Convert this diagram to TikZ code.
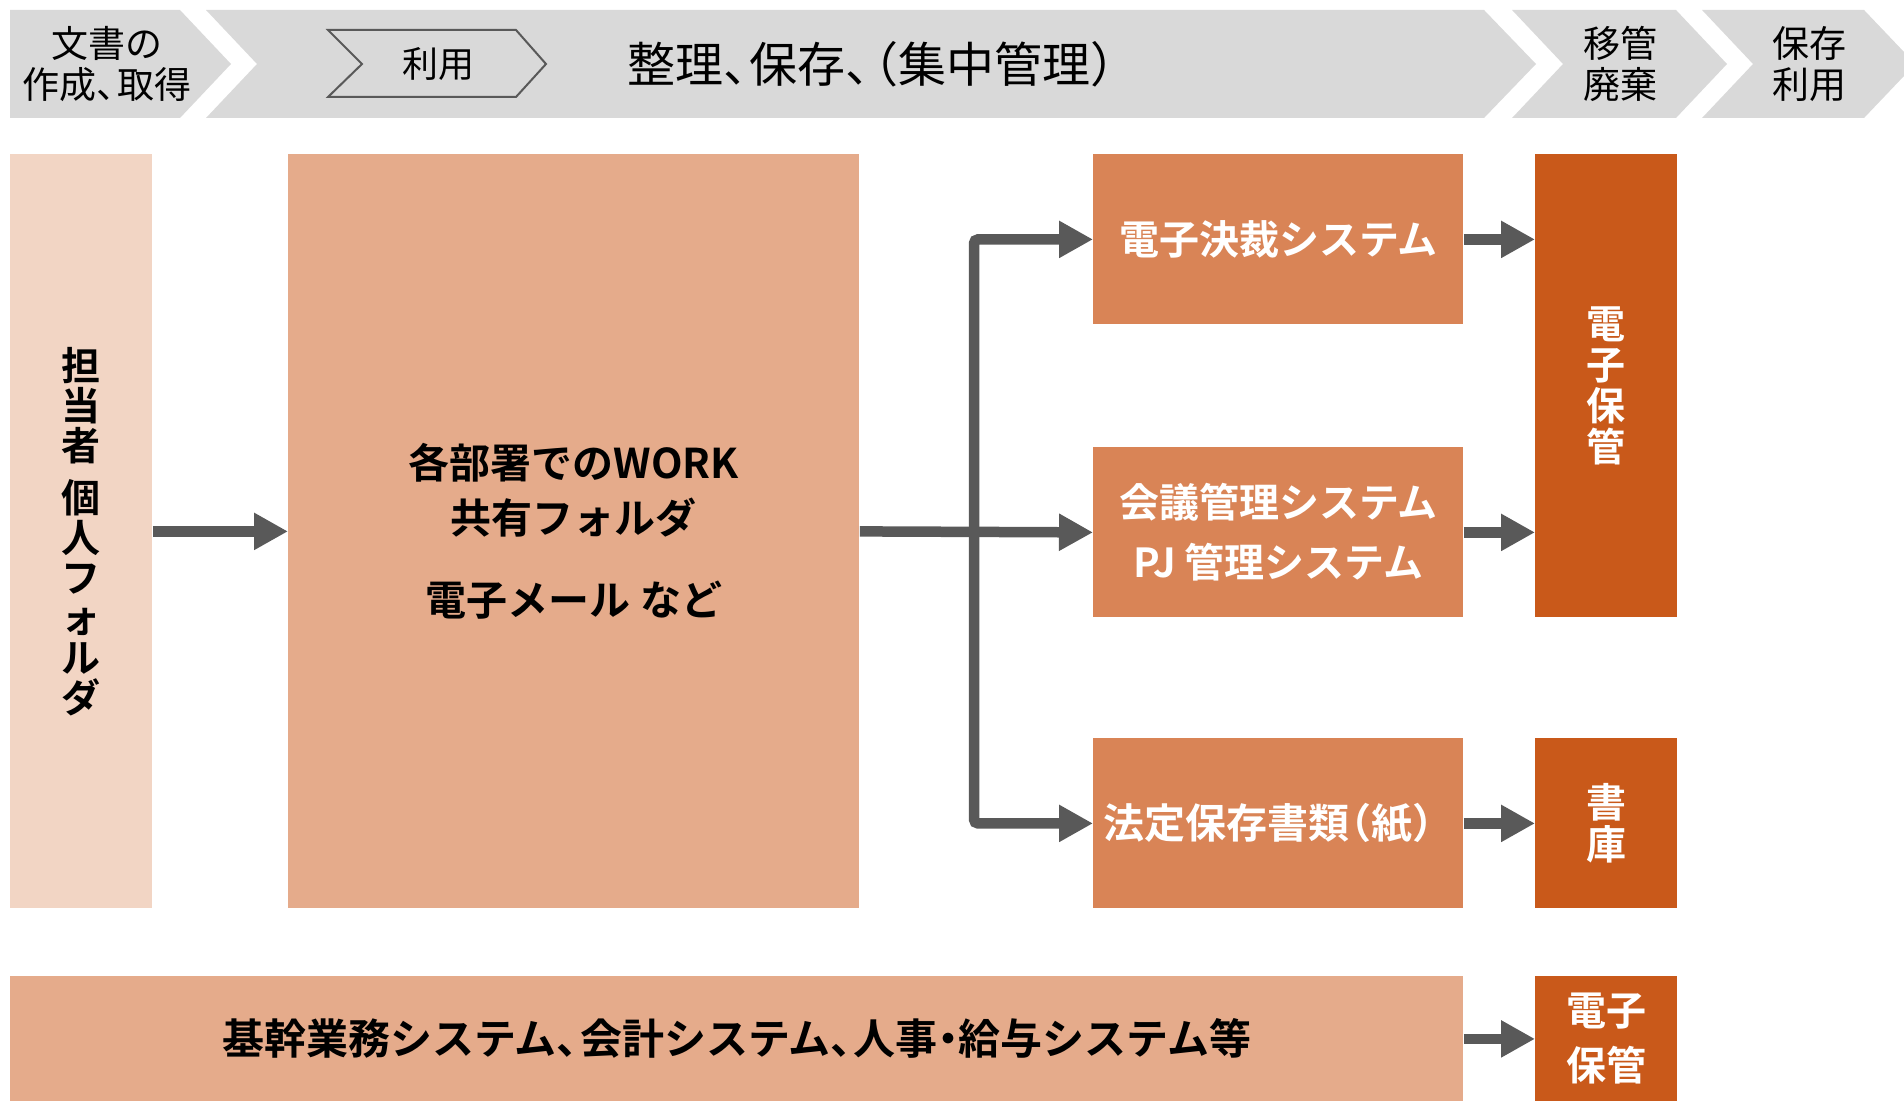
\documentclass[tikz,border=0pt]{standalone}
\usepackage{fontspec}
\setmainfont{Noto Sans CJK JP}[BoldFont={Noto Sans CJK JP Bold}]
\usetikzlibrary{arrows.meta}
\definecolor{bannergray}{HTML}{D9D9D9}
\definecolor{palepeach}{HTML}{F2D5C4}
\definecolor{lightorange}{HTML}{E5AB8B}
\definecolor{midorange}{HTML}{D98456}
\definecolor{darkorange}{HTML}{C9591A}
\definecolor{arrowgray}{HTML}{595959}
% half-width punctuation
\newcommand{\hten}{、\kern-.45em}
\newcommand{\hopen}{\kern-.45em（}
\newcommand{\hclose}{）\kern-.45em}
\newcommand{\hdot}{\kern-.25em・\kern-.25em}
\tikzset{
	stagetext/.style={inner sep=0pt, align=center, font=\fontsize{18.5pt}{20.5pt}\selectfont},
	block/.style={anchor=north west, inner sep=0pt, align=center, font=\bfseries\fontsize{20pt}{30pt}\selectfont},
	flow/.style={draw=arrowgray, line width=5.25pt, -{Triangle[length=17pt,width=17.5pt]}},
}

\begin{document}
\begin{tikzpicture}[x=0.5pt, y=-0.5pt]
		%%%%% START %%%%%
		\useasboundingbox (0, 0) rectangle (1904, 1101);
		
		% stages
		\fill[bannergray] (10, 10) -- (180, 10) -- (231, 64) -- (180, 118) -- (10, 118) -- cycle;
		\fill[bannergray] (206, 10) -- (1484, 10) -- (1536, 64) -- (1484, 118) -- (206, 118) -- (257, 64) -- cycle;
		\fill[bannergray] (1512, 10) -- (1676, 10) -- (1727, 64) -- (1676, 118) -- (1512, 118) -- (1563, 64) -- cycle;
		\fill[bannergray] (1702, 10) -- (1864, 10) -- (1904, 52) -- (1904, 76) -- (1864, 118) -- (1702, 118) -- (1753, 64) -- cycle;
		\draw[arrowgray, line width=1pt] (328, 30) -- (516, 30) -- (546, 64) -- (516, 97) -- (328, 97) -- (362, 64) -- cycle;
		
		\node[stagetext] (create) at (107, 64) {文書の\\作成\hten 取得};
		\node[stagetext, font=\fontsize{18pt}{20pt}\selectfont] (use) at (438, 64) {利用};
		\node[stagetext, font=\fontsize{24pt}{28pt}\selectfont] (arrange) at (872, 64) {整理\hten 保存\hten\hopen 集中管理\hclose};
		\node[stagetext] (transfer) at (1620, 64) {移管\\廃棄};
		\node[stagetext] (reuse) at (1809, 64) {保存\\利用};
		
		% boxes
		\node[block, fill=palepeach, minimum width=71pt, minimum height=377pt, font=\bfseries\fontsize{19.5pt}{20pt}\selectfont] (mine) at (10, 154)
			{担\\当\\者\\[6pt]個\\人\\フ\\ォ\\ル\\ダ};
		\node[block, fill=lightorange, minimum width=285.5pt, minimum height=377pt, font=\bfseries\fontsize{20.5pt}{27.5pt}\selectfont] (work) at (288, 154)
			{各部署でのWORK\\共有フォルダ\\[13.5pt]電子メール など};
		
		\node[block, fill=midorange, text=white, minimum width=185pt, minimum height=85pt] (approve) at (1093, 154) {電子決裁システム};
		\node[block, fill=midorange, text=white, minimum width=185pt, minimum height=85pt] (meet) at (1093, 447) {会議管理システム\\PJ 管理システム};
		\node[block, fill=midorange, text=white, minimum width=185pt, minimum height=85pt, font=\bfseries\fontsize{20.5pt}{30pt}\selectfont] (paper) at (1093, 738) {法定保存書類\hopen 紙）};
		
		\node[block, fill=darkorange, text=white, minimum width=71pt, minimum height=231.5pt, font=\bfseries\fontsize{19.5pt}{20.5pt}\selectfont] (store) at (1535, 154) {電\\子\\保\\管};
		\node[block, fill=darkorange, text=white, minimum width=71pt, minimum height=85pt, font=\bfseries\fontsize{20pt}{21pt}\selectfont] (library) at (1535, 738) {書\\庫};
		
		\node[block, fill=lightorange, minimum width=726.5pt, minimum height=62.5pt, font=\bfseries\fontsize{21pt}{30pt}\selectfont] (core) at (10, 976)
			{基幹業務システム\hten 会計システム\hten 人事\hdot 給与システム等};
		\node[block, fill=darkorange, text=white, minimum width=71pt, minimum height=62.5pt, font=\bfseries\fontsize{20pt}{27.5pt}\selectfont] (keep) at (1535, 976) {電子\\保管};
		
		% arrows
		\coordinate (split) at (974, 532);
		\draw[flow] (mine.east) -- (work.west);
		\draw[flow] (work.east) -- (meet.west);
		\draw[flow, rounded corners=2pt] (split) |- (approve.west);
		\draw[flow, rounded corners=2pt] (split) |- (paper.west);
		
		\draw[flow] (approve.east) -- (approve.east -| store.west);
		\draw[flow] (meet.east) -- (meet.east -| store.west);
		\draw[flow] (paper.east) -- (library.west);
		\draw[flow] (core.east) -- (keep.west);
		
		%%%%% END %%%%%
\end{tikzpicture}
\end{document}
